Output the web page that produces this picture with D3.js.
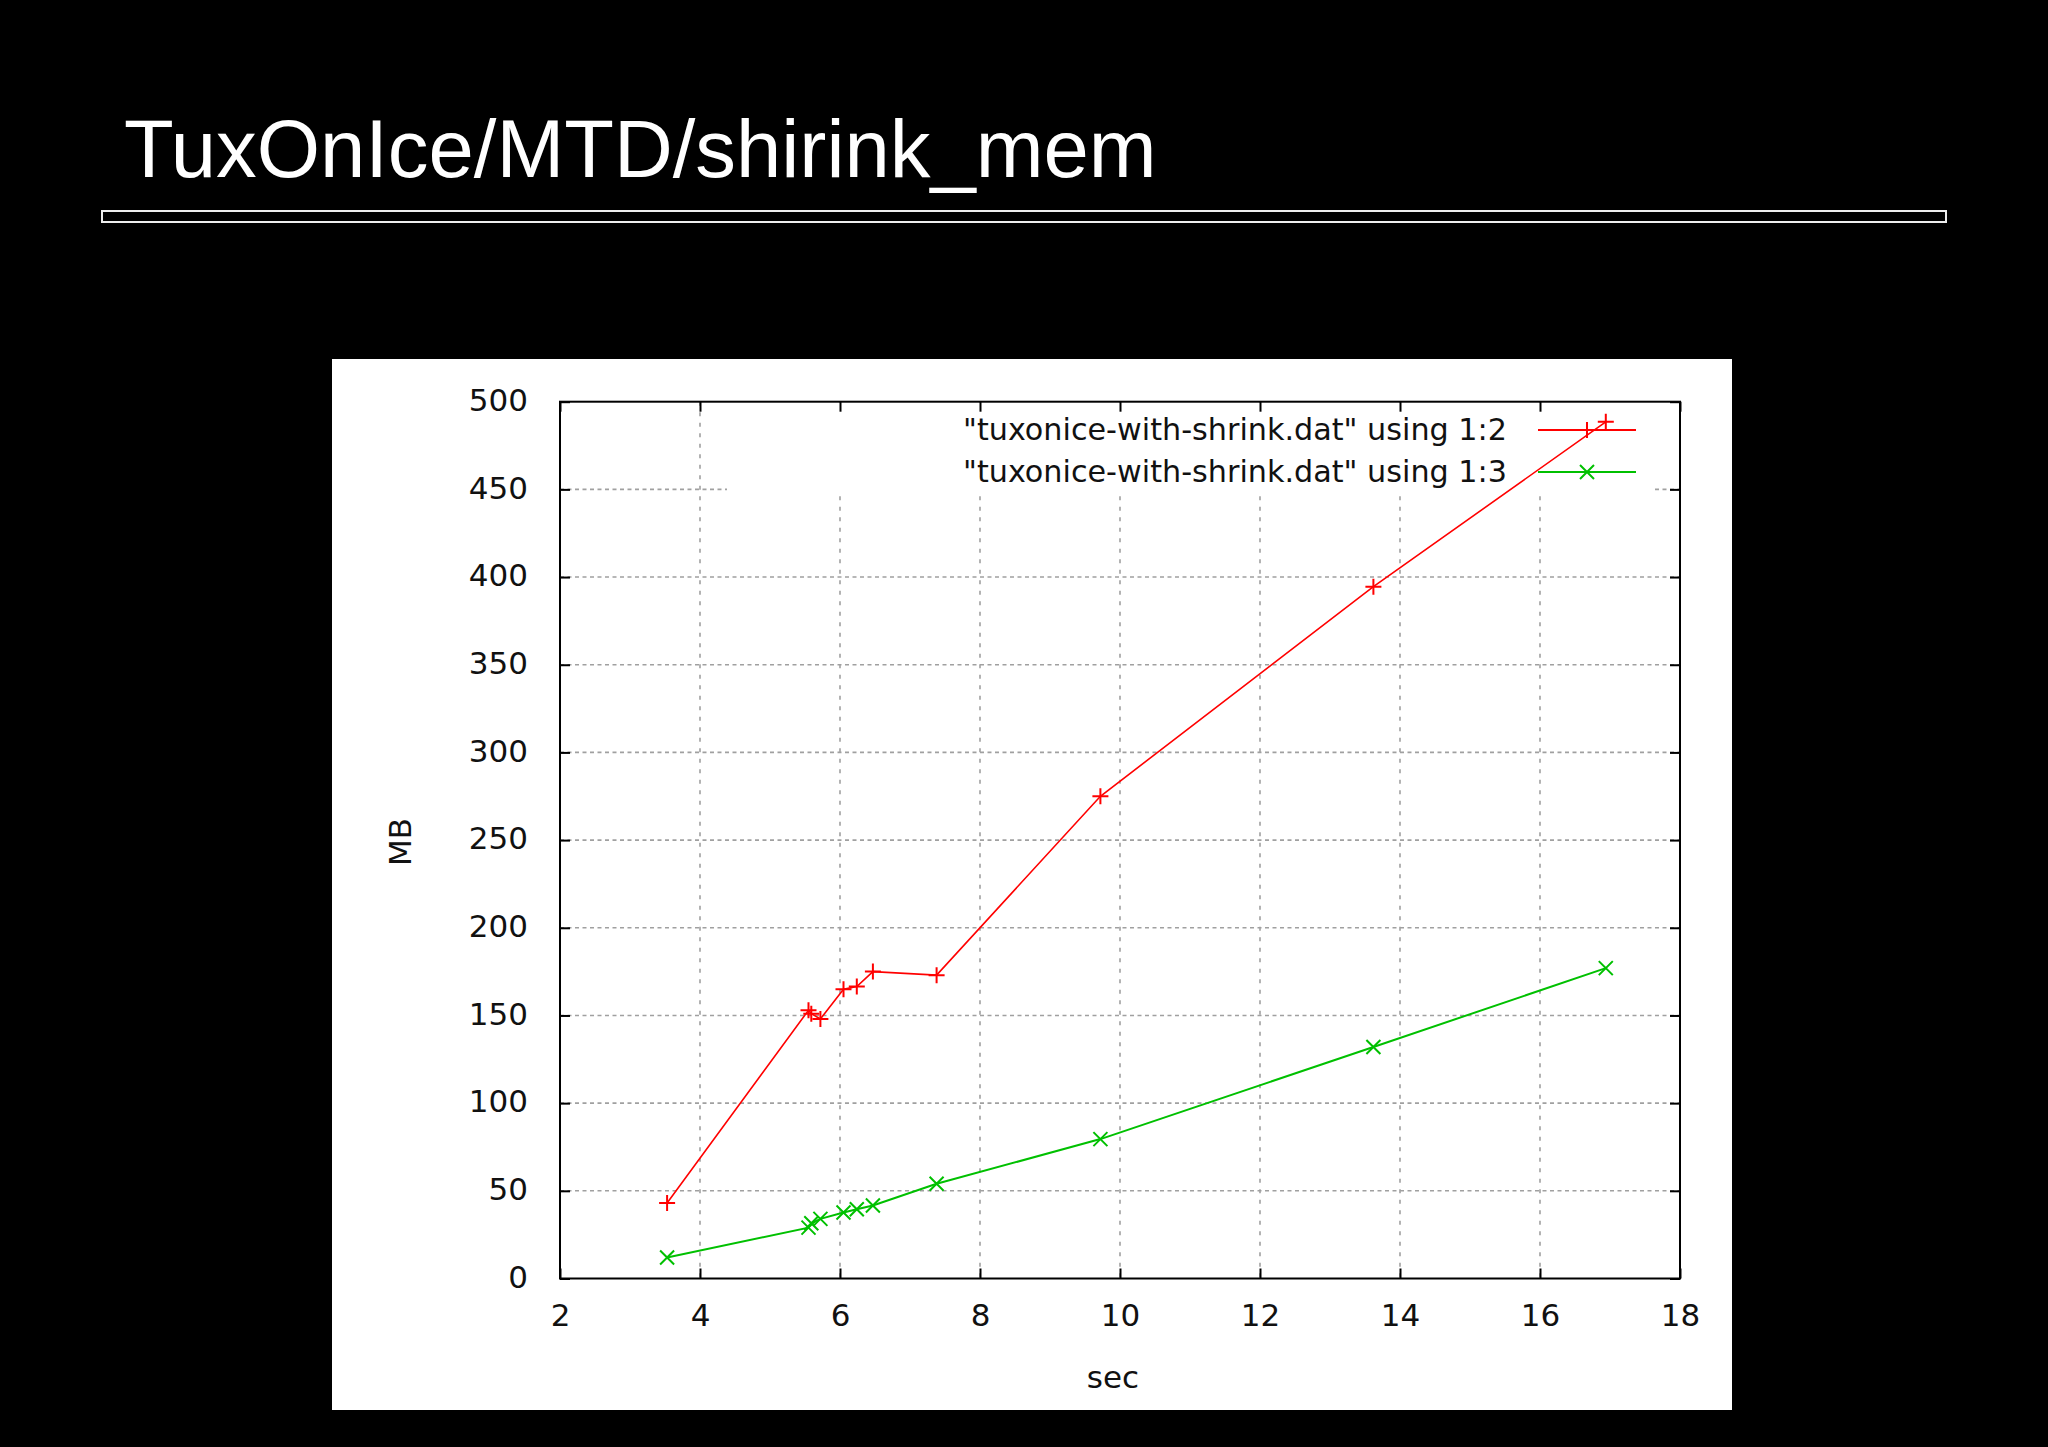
<!DOCTYPE html>
<html>
<head>
  <meta charset="UTF-8">
  <title>TuxOnIce/MTD/shirink_mem</title>
  <style>
    html, body { margin: 0; padding: 0; background: #000; }
    svg { display: block; }
    .tick text { font-family: "DejaVu Sans", sans-serif; font-size: 31px; fill: #111; }
  </style>
</head>
<body>
  <div id="chart"></div>
  <script src="https://cdn.jsdelivr.net/npm/d3@7"></script>
  <script>
    // values
    var sec = [3.53, 5.55, 5.59, 5.72, 6.05, 6.24, 6.47, 7.38, 9.72, 13.62, 16.94];
    var mbWithShrink = [43, 153, 151, 148, 165, 166.5, 175, 173, 275, 394.5, 488.5];
    var mbColumn3 = [12, 29, 31.5, 34, 37.6, 39.5, 41.6, 54, 79.5, 132, 177];
    var xTicks = [2, 4, 6, 8, 10, 12, 14, 16, 18];
    var yTicks = [0, 50, 100, 150, 200, 250, 300, 350, 400, 450, 500];
    var seriesNames = ['"tuxonice-with-shrink.dat" using 1:2', '"tuxonice-with-shrink.dat" using 1:3'];

    var W = 2048, H = 1447;
    var svg = d3.select('#chart').append('svg')
      .attr('width', W)
      .attr('height', H);

    svg.append('rect').attr('width', W).attr('height', H).attr('fill', '#000');

    // slide title + underline bar
    svg.append('text')
      .attr('x', 124)
      .attr('y', 177)
      .attr('font-family', '"Liberation Sans", Arial, sans-serif')
      .attr('font-size', 81.4)
      .attr('fill', '#fff')
      .text('TuxOnIce/MTD/shirink_mem');

    svg.append('rect')
      .attr('x', 102).attr('y', 211)
      .attr('width', 1844).attr('height', 11)
      .attr('fill', '#000')
      .attr('stroke', '#eee')
      .attr('stroke-width', 2);

    // white plot panel
    svg.append('rect')
      .attr('x', 332).attr('y', 359)
      .attr('width', 1400).attr('height', 1051)
      .attr('fill', '#fff');

    var plotL = 560, plotR = 1680, plotT = 401.7, plotB = 1278.5;
    var x = d3.scaleLinear().domain([2, 18]).range([plotL, plotR]);
    var y = d3.scaleLinear().domain([0, 500]).range([plotB, plotT]);

    // grid
    var grid = svg.append('g').attr('stroke', '#a0a0a0').attr('stroke-width', 1.6);
    grid.selectAll('.hg')
      .data(yTicks.slice(1, -1))
      .enter().append('line')
      .attr('x1', plotL).attr('x2', plotR)
      .attr('y1', d => y(d)).attr('y2', d => y(d))
      .attr('stroke-dasharray', '4,3.5');
    grid.selectAll('.vg')
      .data(xTicks.slice(1, -1))
      .enter().append('line')
      .attr('y1', plotT).attr('y2', plotB)
      .attr('x1', d => x(d)).attr('x2', d => x(d))
      .attr('stroke-dasharray', '4,6.5');

    // opaque key box
    svg.append('rect')
      .attr('x', 727).attr('y', plotT + 1)
      .attr('width', 928).attr('height', 90)
      .attr('fill', '#fff');

    // axes with inward ticks
    svg.append('g')
      .attr('transform', 'translate(0,' + plotB + ')')
      .call(d3.axisBottom(x).tickValues(xTicks).tickSize(-10).tickPadding(25).tickFormat(d3.format('d')))
      .call(g => g.select('.domain').remove());
    svg.append('g')
      .attr('transform', 'translate(' + plotL + ',0)')
      .call(d3.axisLeft(y).tickValues(yTicks).tickSize(-10).tickPadding(32).tickFormat(d3.format('d')))
      .call(g => g.select('.domain').remove())
      .selectAll('text').attr('dy', '0.28em');
    svg.append('g')
      .attr('transform', 'translate(0,' + plotT + ')')
      .call(d3.axisTop(x).tickValues(xTicks).tickSize(-10).tickFormat(''))
      .call(g => g.select('.domain').remove());
    svg.append('g')
      .attr('transform', 'translate(' + plotR + ',0)')
      .call(d3.axisRight(y).tickValues(yTicks).tickSize(-10).tickFormat(''))
      .call(g => g.select('.domain').remove());
    svg.selectAll('.tick line').attr('stroke', '#000').attr('stroke-width', 2);

    svg.append('rect')
      .attr('x', plotL).attr('y', plotT)
      .attr('width', plotR - plotL).attr('height', plotB - plotT)
      .attr('fill', 'none')
      .attr('stroke', '#000')
      .attr('stroke-width', 2);

    // axis titles
    svg.append('text')
      .attr('x', 1113).attr('y', 1388)
      .attr('text-anchor', 'middle')
      .attr('font-family', '"DejaVu Sans", sans-serif')
      .attr('font-size', 31)
      .attr('fill', '#111')
      .text('sec');
    svg.append('text')
      .attr('transform', 'translate(411,842) rotate(-90)')
      .attr('text-anchor', 'middle')
      .attr('font-family', '"DejaVu Sans", sans-serif')
      .attr('font-size', 31)
      .attr('fill', '#111')
      .text('MB');

    // markers
    function plus(s) { return 'M' + (-s) + ',0H' + s + 'M0,' + (-s) + 'V' + s; }
    function cross(s) { return 'M' + (-s) + ',' + (-s) + 'L' + s + ',' + s + 'M' + (-s) + ',' + s + 'L' + s + ',' + (-s); }

    var series = [
      { name: seriesNames[0], values: mbWithShrink, color: '#ff0000', mark: plus(8), width: 1.6 },
      { name: seriesNames[1], values: mbColumn3, color: '#00c000', mark: cross(7), width: 2 }
    ];

    // key entries
    var keyY = [430, 472];
    series.forEach(function (s, i) {
      svg.append('text')
        .attr('x', 1507).attr('y', keyY[i] + 10)
        .attr('text-anchor', 'end')
        .attr('font-family', '"DejaVu Sans", sans-serif')
        .attr('font-size', 31)
        .attr('fill', '#111')
        .attr('textLength', 544)
        .attr('lengthAdjust', 'spacingAndGlyphs')
        .text(s.name);
      svg.append('line')
        .attr('x1', 1538).attr('x2', 1636)
        .attr('y1', keyY[i]).attr('y2', keyY[i])
        .attr('stroke', s.color).attr('stroke-width', 2);
      svg.append('path')
        .attr('d', s.mark)
        .attr('transform', 'translate(1587,' + keyY[i] + ')')
        .attr('fill', 'none').attr('stroke', s.color).attr('stroke-width', 2);
    });

    var line = d3.line().x(d => x(d[0])).y(d => y(d[1]));
    series.forEach(function (s) {
      var pts = sec.map((v, i) => [v, s.values[i]]);
      svg.append('path')
        .attr('d', line(pts))
        .attr('fill', 'none')
        .attr('stroke', s.color)
        .attr('stroke-width', s.width);
      svg.selectAll(null)
        .data(pts)
        .enter().append('path')
        .attr('d', s.mark)
        .attr('transform', d => 'translate(' + x(d[0]) + ',' + y(d[1]) + ')')
        .attr('fill', 'none')
        .attr('stroke', s.color)
        .attr('stroke-width', 2);
    });
  </script>
</body>
</html>
